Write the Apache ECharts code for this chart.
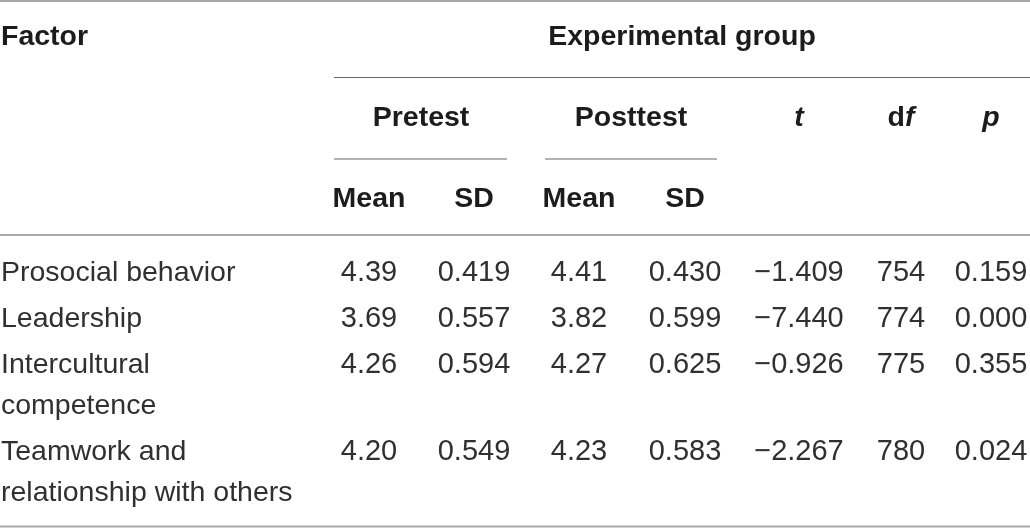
<!DOCTYPE html>
<html>
<head>
<meta charset="utf-8">
<script src="https://cdn.jsdelivr.net/npm/echarts@6/dist/echarts.min.js"></script>
<style>
html,body{margin:0;padding:0;background:#fff;}
#chart{width:1030px;height:528px;}
</style>
</head>
<body>
<div id="chart"></div>
<script>
// ---------- DATA ----------
var factors = ['Prosocial behavior', 'Leadership', 'Intercultural\ncompetence', 'Teamwork and\nrelationship with others'];
var preMean  = ['4.39', '3.69', '4.26', '4.20'];
var preSD    = ['0.419', '0.557', '0.594', '0.549'];
var postMean = ['4.41', '3.82', '4.27', '4.23'];
var postSD   = ['0.430', '0.599', '0.625', '0.583'];
var tValues  = ['\u22121.409', '\u22127.440', '\u22120.926', '\u22122.267'];
var dfValues = ['754', '774', '775', '780'];
var pValues  = ['0.159', '0.000', '0.355', '0.024'];

var headTop = 'Experimental group';
var headGroups = ['Pretest', 'Posttest'];
var headStats = ['Mean', 'SD', 'Mean', 'SD'];

// ---------- LAYOUT (positions / styles, not data) ----------
var W = 1030, H = 528;
var COL_CENTER = [null, 369, 474, 579, 685, 799, 901, 991]; // column centres
var FACTOR_X = 1;
var ROW_FIRST_Y = 273, ROW_GAP = 46, LINE_H = 41;
var FONT = '"Liberation Sans", Arial, Helvetica, sans-serif';
var SIZE = 28.5;
var NUM_SIZE = 29;
var BODY_COLOR = '#303030', HEAD_COLOR = '#1c1c1c';

var bodyCols = [preMean, preSD, postMean, postSD, tValues, dfValues, pValues];

// body cell items: [colIndex, rowIndex, text]
var cells = [];
var rowY = [];
var y = ROW_FIRST_Y;
for (var r = 0; r < factors.length; r++) {
  rowY.push(y);
  cells.push([0, r, factors[r]]);
  for (var c = 0; c < bodyCols.length; c++) cells.push([c + 1, r, bodyCols[c][r]]);
  var nLines = factors[r].split('\n').length;
  y += ROW_GAP + (nLines - 1) * LINE_H;
}

// header items: [x, y, text, align]
var headers = [
  [FACTOR_X, 37, 'Factor', 'left'],
  [682, 37, headTop, 'center'],
  [421, 118, headGroups[0], 'center'],
  [631, 118, headGroups[1], 'center'],
  [COL_CENTER[5], 118, '{bi|t}', 'center'],
  [COL_CENTER[6], 118, '{b|d}{bi|f}', 'center'],
  [COL_CENTER[7], 118, '{bi|p}', 'center'],
  [COL_CENTER[1], 199, headStats[0], 'center'],
  [COL_CENTER[2], 199, headStats[1], 'center'],
  [COL_CENTER[3], 199, headStats[2], 'center'],
  [COL_CENTER[4], 199, headStats[3], 'center']
];

// rules: [x1, x2, y, width, color]
var rules = [
  [0, W, 1, 2, '#a8a8a8'],
  [334, W, 77.5, 1.2, '#666666'],
  [334, 507, 159, 1.5, '#9a9a9a'],
  [545, 717, 159, 1.5, '#9a9a9a'],
  [0, W, 235, 2, '#a8a8a8'],
  [0, W, 526.5, 2, '#a8a8a8']
];

var chart = echarts.init(document.getElementById('chart'), null, {renderer: 'canvas'});

var option = {
  backgroundColor: '#ffffff',
  animation: false,
  grid: {left: 0, right: 0, top: 0, bottom: 0},
  xAxis: {type: 'value', min: 0, max: W, show: false},
  yAxis: {type: 'value', min: 0, max: H, inverse: true, show: false},
  series: [
    {
      type: 'custom',
      name: 'rules',
      data: rules,
      renderItem: function (params, api) {
        var p1 = api.coord([api.value(0), api.value(2)]);
        var p2 = api.coord([api.value(1), api.value(2)]);
        var d = rules[params.dataIndex];
        return {
          type: 'line',
          shape: {x1: p1[0], y1: p1[1], x2: p2[0], y2: p2[1]},
          style: {stroke: d[4], lineWidth: d[3]}
        };
      },
      silent: true
    },
    {
      type: 'custom',
      name: 'header',
      data: headers,
      renderItem: function (params, api) {
        var d = headers[params.dataIndex];
        var p = api.coord([d[0], d[1]]);
        var isRich = d[2].indexOf('{') === 0;
        return {
          type: 'text',
          x: p[0], y: p[1],
          style: {
            text: d[2],
            align: d[3],
            verticalAlign: 'middle',
            font: 'bold ' + SIZE + 'px ' + FONT,
            fill: HEAD_COLOR,
            rich: isRich ? {
              b: {fontFamily: FONT, fontWeight: 'bold', fontSize: SIZE, fill: HEAD_COLOR, color: HEAD_COLOR},
              bi: {fontFamily: FONT, fontWeight: 'bold', fontStyle: 'italic', fontSize: SIZE, fill: HEAD_COLOR, color: HEAD_COLOR}
            } : undefined
          }
        };
      },
      silent: true
    },
    {
      type: 'custom',
      name: 'cells',
      data: cells,
      renderItem: function (params, api) {
        var d = cells[params.dataIndex];
        var col = d[0], row = d[1];
        var xPos = col === 0 ? FACTOR_X : COL_CENTER[col];
        var p = api.coord([xPos, rowY[row]]);
        return {
          type: 'text',
          x: p[0], y: p[1] - LINE_H / 2,
          style: {
            text: d[2],
            align: col === 0 ? 'left' : 'center',
            verticalAlign: 'top',
            font: (col === 0 ? SIZE : NUM_SIZE) + 'px ' + FONT,
            lineHeight: LINE_H,
            fill: BODY_COLOR
          }
        };
      },
      silent: true
    }
  ]
};
chart.setOption(option);
</script>
</body>
</html>
